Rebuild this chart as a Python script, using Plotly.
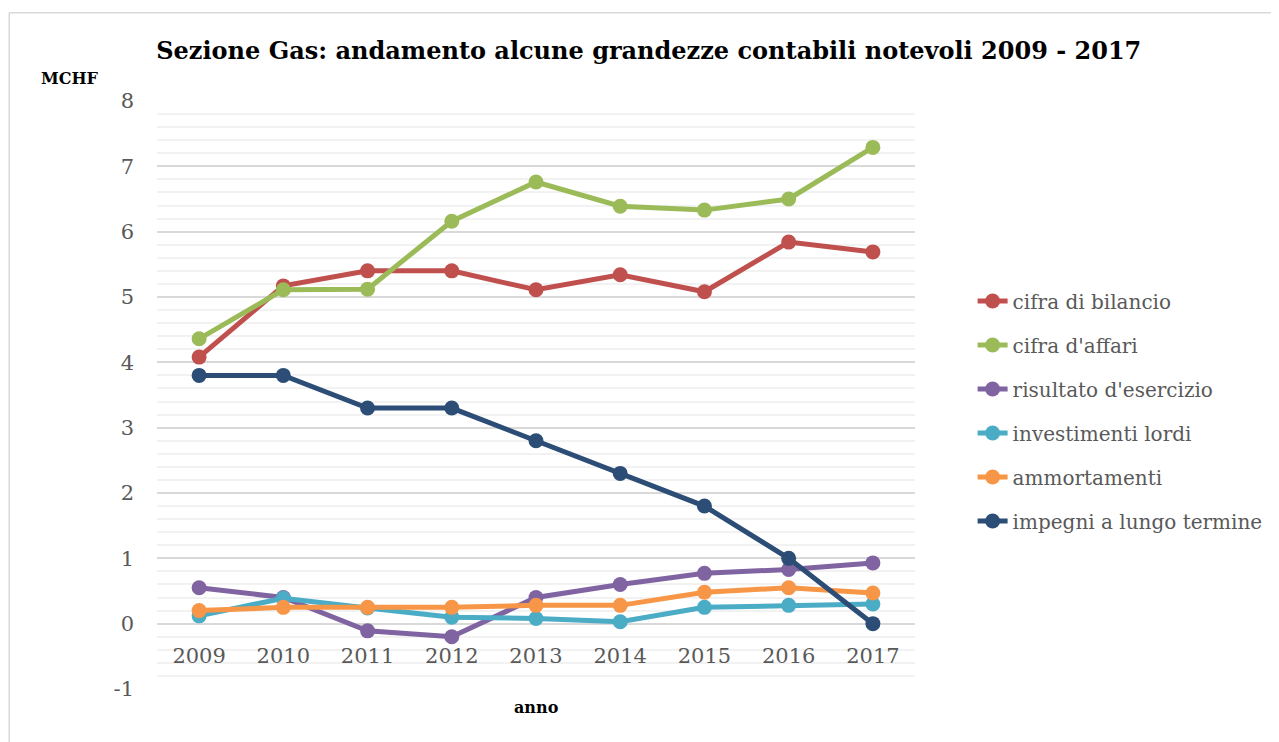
import plotly.graph_objects as go

# years and series (MCHF)
anni = ['2009', '2010', '2011', '2012', '2013', '2014', '2015', '2016', '2017']

cifra_bilancio = [4.08, 5.17, 5.40, 5.40, 5.11, 5.34, 5.08, 5.84, 5.69]
cifra_affari = [4.36, 5.11, 5.12, 6.16, 6.76, 6.39, 6.33, 6.50, 7.29]
risultato_esercizio = [0.55, 0.40, -0.11, -0.20, 0.40, 0.60, 0.77, 0.83, 0.93]
investimenti_lordi = [0.12, 0.39, 0.24, 0.10, 0.08, 0.03, 0.25, 0.28, 0.30]
ammortamenti = [0.20, 0.25, 0.25, 0.25, 0.28, 0.28, 0.48, 0.55, 0.47]
impegni_lungo_termine = [3.80, 3.80, 3.30, 3.30, 2.80, 2.30, 1.80, 1.00, 0.00]

y_ticks = [-1, 0, 1, 2, 3, 4, 5, 6, 7, 8]
y_labels = ['-1', '0', '1', '2', '3', '4', '5', '6', '7', '8']

series = [
    ('cifra di bilancio', cifra_bilancio, '#C0504D'),
    ("cifra d'affari", cifra_affari, '#9BBB59'),
    ("risultato d'esercizio", risultato_esercizio, '#8064A2'),
    ('investimenti lordi', investimenti_lordi, '#4BACC6'),
    ('ammortamenti', ammortamenti, '#F79646'),
    ('impegni a lungo termine', impegni_lungo_termine, '#2C4D75'),
]

FONT = 'DejaVu Serif'

fig = go.Figure()
for i, (name, vals, col) in enumerate(series):
    fig.add_trace(go.Scatter(
        x=anni, y=vals, name=name, mode='lines+markers',
        legendgroup=str(i),
        line=dict(color=col, width=5),
        marker=dict(color=col, size=15),
    ))

fig.update_layout(
    width=1279, height=742,
    paper_bgcolor='white', plot_bgcolor='white',
    margin=dict(l=149, r=372, t=93, b=61),
    font=dict(family=FONT, color='#595959', size=20),
    title=dict(text='<b>Sezione Gas: andamento alcune grandezze contabili notevoli 2009 - 2017</b>',
               x=0.501, xanchor='center', y=0.943, yanchor='middle',
               font=dict(family=FONT, size=24, color='black')),
    legend=dict(x=1.076, xanchor='left', y=0.693, yanchor='top',
                font=dict(family=FONT, size=20, color='#595959'),
                tracegroupgap=15, bgcolor='rgba(0,0,0,0)'),
    showlegend=True,
)

fig.update_xaxes(type='category', range=[-0.5, 8.5], anchor='free', position=0.1122,
                 showgrid=False, showline=False, ticks='', zeroline=False, automargin=False,
                 ticklabelstandoff=18, tickfont=dict(size=21, color='#595959'))
fig.update_yaxes(range=[-1, 8], tickvals=y_ticks, ticktext=y_labels,
                 showgrid=True, gridcolor='#D9D9D9', gridwidth=2,
                 zeroline=True, zerolinecolor='#D9D9D9', zerolinewidth=2,
                 minor=dict(dtick=0.2, showgrid=True, gridcolor='#F2F2F2', gridwidth=2),
                 ticks='', showline=False, ticklabelstandoff=22, automargin=False,
                 tickfont=dict(size=21, color='#595959'))

fig.add_annotation(text='<b>MCHF</b>', xref='paper', yref='paper', x=-0.115, y=1.039,
                   xanchor='center', yanchor='middle', showarrow=False,
                   font=dict(family=FONT, size=16, color='black'))
fig.add_annotation(text='<b>anno</b>', xref='paper', yref='paper', x=0.50, y=-0.031,
                   xanchor='center', yanchor='middle', showarrow=False,
                   font=dict(family=FONT, size=16, color='black'))

# outer chart-area border (top and left edges visible)
fig.add_shape(type='line', xref='paper', yref='paper', x0=-0.195, x1=1.6, y0=1.15, y1=1.15,
              line=dict(color='#D9D9D9', width=1.5))
fig.add_shape(type='line', xref='paper', yref='paper', x0=-0.195, x1=-0.195, y0=1.15, y1=-0.2,
              line=dict(color='#D9D9D9', width=1.5))

fig.write_html('out.html')
